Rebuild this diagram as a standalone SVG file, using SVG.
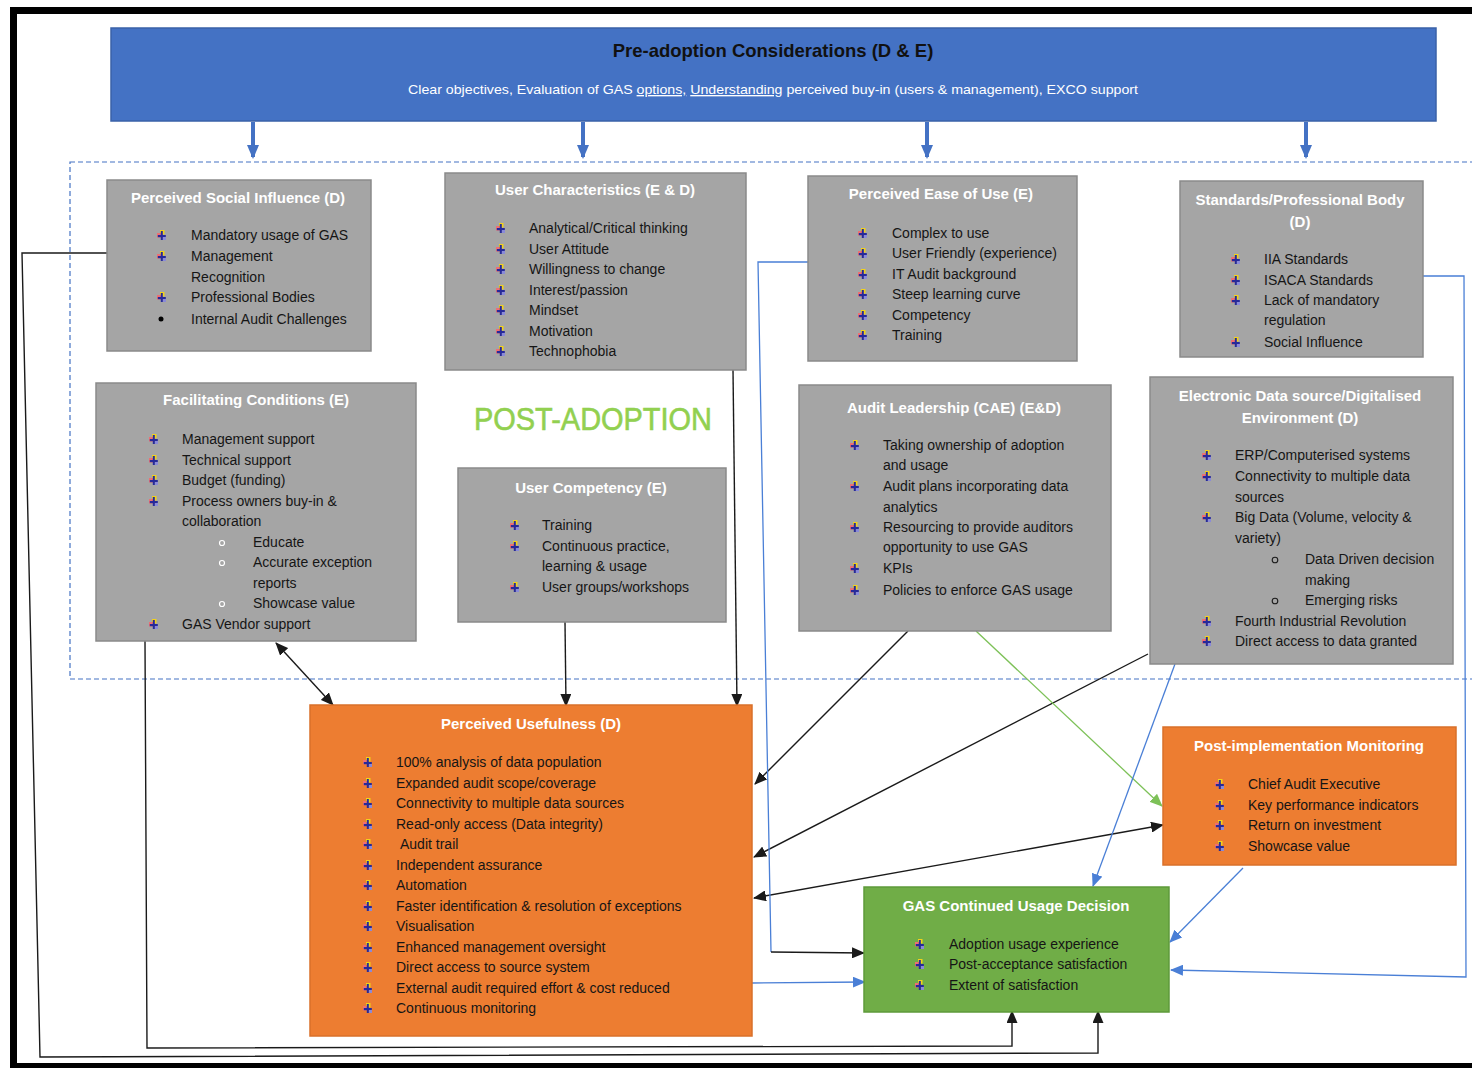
<svg xmlns="http://www.w3.org/2000/svg" xmlns:xlink="http://www.w3.org/1999/xlink" width="1472" height="1068" viewBox="0 0 1472 1068">
  <style>
    .box { fill: #A5A5A5; stroke: #8A8A8A; stroke-width: 1.5; }
    .org { fill: #ED7D31; stroke: #D9702A; stroke-width: 1.5; }
    .grn { fill: #70AD47; stroke: #5E9A3A; stroke-width: 1.5; }
    .ttl { font-family: "Liberation Sans", Arial, sans-serif; font-weight: bold; font-size: 15px; fill: #FFFFFF; text-anchor: middle; }
    .txt { font-family: "Liberation Sans", Arial, sans-serif; font-size: 14px; fill: #151515; }
    .blk { fill: none; stroke: #1A1A1A; stroke-width: 1.4; }
    .blu { fill: none; stroke: #4A7FD6; stroke-width: 1.3; }
    .gln { fill: none; stroke: #7DC158; stroke-width: 1.3; }
    .sub { fill: none; stroke: #FFFFFF; stroke-width: 1.2; }
    .subd { fill: none; stroke: #1C1C1C; stroke-width: 1.1; }
  </style>
  <defs>
    <!-- multicoloured list bullet -->
    <symbol id="bul" viewBox="0 0 9 10">
      <rect x="3" y="0" width="4.5" height="4.5" fill="#F2D21B"/>
      <rect x="0" y="3" width="4" height="4.5" fill="#EE6F72"/>
      <rect x="3.8" y="1" width="2" height="9" fill="#26299A"/>
      <rect x="0.8" y="5" width="8" height="2.2" fill="#26299A"/>
      <rect x="6" y="7" width="3" height="3" fill="#8A8AD8"/>
    </symbol>
    <marker id="aBlk" markerUnits="userSpaceOnUse" markerWidth="13" markerHeight="11" refX="12" refY="5.5" orient="auto-start-reverse">
      <path d="M0,0 L13,5.5 L0,11 z" fill="#1A1A1A"/>
    </marker>
    <marker id="aBlu" markerUnits="userSpaceOnUse" markerWidth="13" markerHeight="11" refX="12" refY="5.5" orient="auto-start-reverse">
      <path d="M0,0 L13,5.5 L0,11 z" fill="#4A7FD6"/>
    </marker>
    <marker id="aGrn" markerUnits="userSpaceOnUse" markerWidth="13" markerHeight="11" refX="12" refY="5.5" orient="auto-start-reverse">
      <path d="M0,0 L13,5.5 L0,11 z" fill="#7DC158"/>
    </marker>
    <marker id="aFat" markerUnits="userSpaceOnUse" markerWidth="14" markerHeight="12" refX="12" refY="6" orient="auto">
      <path d="M0,0 L14,6 L0,12 z" fill="#4472C4"/>
    </marker>
  </defs>

  <rect x="0" y="0" width="1472" height="1068" fill="#FFFFFF"/>
  <!-- page frame -->
  <path d="M10,7 H1472 V14 H17 V1063 H1472 V1068 H10 z" fill="#000000"/>

  <!-- pre-adoption banner -->
  <g id="banner">
    <rect x="111" y="28" width="1325" height="93" fill="#4472C4" stroke="#3A62A8" stroke-width="1.5"/>
    <text x="773" y="57" font-family="Liberation Sans, Arial, sans-serif" font-weight="bold" font-size="18.5" fill="#111111" text-anchor="middle">Pre-adoption Considerations (D &amp; E)</text>
    <text x="408" y="94" font-family="Liberation Sans, Arial, sans-serif" font-size="13.5" fill="#FFFFFF" textLength="730" lengthAdjust="spacingAndGlyphs">Clear objectives, Evaluation of GAS <tspan text-decoration="underline">options,</tspan>  <tspan text-decoration="underline">Understanding</tspan> perceived buy-in (users &amp; management), EXCO support</text>
  </g>

  <!-- dashed post-adoption region -->
  <rect x="70" y="162" width="1420" height="517" fill="none" stroke="#4472C4" stroke-width="1.2" stroke-dasharray="5 3"/>
  <text x="593" y="430" font-family="Liberation Sans, Arial, sans-serif" font-size="31" fill="#92D050" stroke="#92D050" stroke-width="0.6" text-anchor="middle" textLength="238" lengthAdjust="spacingAndGlyphs">POST-ADOPTION</text>

  <!-- connectors -->
  <g id="connectors">
    <line x1="253" y1="122" x2="253" y2="157" stroke="#4472C4" stroke-width="4" marker-end="url(#aFat)"/>
    <line x1="583" y1="122" x2="583" y2="157" stroke="#4472C4" stroke-width="4" marker-end="url(#aFat)"/>
    <line x1="927" y1="122" x2="927" y2="157" stroke="#4472C4" stroke-width="4" marker-end="url(#aFat)"/>
    <line x1="1306" y1="122" x2="1306" y2="157" stroke="#4472C4" stroke-width="4" marker-end="url(#aFat)"/>

    <polyline class="blk" points="107,253 22,253 40,1057 1098,1053 1098,1011" marker-end="url(#aBlk)"/>
    <polyline class="blk" points="145,641 147,1048 1012,1046 1012,1011" marker-end="url(#aBlk)"/>
    <line class="blk" x1="276" y1="643" x2="333" y2="705" marker-start="url(#aBlk)" marker-end="url(#aBlk)"/>
    <line class="blk" x1="565" y1="622" x2="566" y2="706" marker-end="url(#aBlk)"/>
    <line class="blk" x1="733" y1="370" x2="737" y2="706" marker-end="url(#aBlk)"/>
    <line class="blk" x1="908" y1="631" x2="755" y2="784" marker-end="url(#aBlk)"/>
    <line class="blk" x1="1148" y1="654" x2="754" y2="857" marker-end="url(#aBlk)"/>
    <line class="blk" x1="754" y1="898" x2="1163" y2="825" marker-start="url(#aBlk)" marker-end="url(#aBlk)"/>
    <line class="gln" x1="976" y1="631" x2="1162" y2="806" marker-end="url(#aGrn)"/>

    <polyline class="blu" points="808,262 758,262 771,952"/>
    <line class="blk" x1="771" y1="952" x2="864" y2="953" marker-end="url(#aBlk)"/>
    <line class="blu" x1="752" y1="983" x2="865" y2="982" marker-end="url(#aBlu)"/>
    <line class="blu" x1="1175" y1="664" x2="1093" y2="886" marker-end="url(#aBlu)"/>
    <line class="blu" x1="1243" y1="868" x2="1170" y2="942" marker-end="url(#aBlu)"/>
    <polyline class="blu" points="1423,276 1464,276 1466,977 1171,970" marker-end="url(#aBlu)"/>
  </g>

  <!-- Perceived Social Influence -->
  <g id="social-influence">
    <rect class="box" x="107" y="180" width="264" height="171"/>
    <text class="ttl" x="238" y="203">Perceived Social Influence (D)</text>
    <use href="#bul" x="157" y="230" width="9" height="10"/>
    <text class="txt" x="191" y="240">Mandatory usage of GAS</text>
    <use href="#bul" x="157" y="251" width="9" height="10"/>
    <text class="txt" x="191" y="261">Management</text>
    <text class="txt" x="191" y="282">Recognition</text>
    <use href="#bul" x="157" y="292" width="9" height="10"/>
    <text class="txt" x="191" y="302">Professional Bodies</text>
    <circle cx="161" cy="319" r="2.5" fill="#000000"/>
    <text class="txt" x="191" y="324">Internal Audit Challenges</text>
  </g>

  <!-- User Characteristics -->
  <g id="user-characteristics">
    <rect class="box" x="445" y="173" width="301" height="197"/>
    <text class="ttl" x="595" y="195">User Characteristics (E &amp; D)</text>
    <use href="#bul" x="496" y="223" width="9" height="10"/>
    <text class="txt" x="529" y="233">Analytical/Critical thinking</text>
    <use href="#bul" x="496" y="244" width="9" height="10"/>
    <text class="txt" x="529" y="254">User Attitude</text>
    <use href="#bul" x="496" y="264" width="9" height="10"/>
    <text class="txt" x="529" y="274">Willingness to change</text>
    <use href="#bul" x="496" y="285" width="9" height="10"/>
    <text class="txt" x="529" y="295">Interest/passion</text>
    <use href="#bul" x="496" y="305" width="9" height="10"/>
    <text class="txt" x="529" y="315">Mindset</text>
    <use href="#bul" x="496" y="326" width="9" height="10"/>
    <text class="txt" x="529" y="336">Motivation</text>
    <use href="#bul" x="496" y="346" width="9" height="10"/>
    <text class="txt" x="529" y="356">Technophobia</text>
  </g>

  <!-- Perceived Ease of Use -->
  <g id="ease-of-use">
    <rect class="box" x="808" y="176" width="269" height="185"/>
    <text class="ttl" x="941" y="199">Perceived Ease of Use (E)</text>
    <use href="#bul" x="858" y="228" width="9" height="10"/>
    <text class="txt" x="892" y="238">Complex to use</text>
    <use href="#bul" x="858" y="248" width="9" height="10"/>
    <text class="txt" x="892" y="258">User Friendly (experience)</text>
    <use href="#bul" x="858" y="269" width="9" height="10"/>
    <text class="txt" x="892" y="279">IT Audit background</text>
    <use href="#bul" x="858" y="289" width="9" height="10"/>
    <text class="txt" x="892" y="299">Steep learning curve</text>
    <use href="#bul" x="858" y="310" width="9" height="10"/>
    <text class="txt" x="892" y="320">Competency</text>
    <use href="#bul" x="858" y="330" width="9" height="10"/>
    <text class="txt" x="892" y="340">Training</text>
  </g>

  <!-- Standards / Professional Body -->
  <g id="standards">
    <rect class="box" x="1180" y="181" width="243" height="176"/>
    <text class="ttl" x="1300" y="205">Standards/Professional Body</text>
    <text class="ttl" x="1300" y="227">(D)</text>
    <use href="#bul" x="1231" y="254" width="9" height="10"/>
    <text class="txt" x="1264" y="264">IIA Standards</text>
    <use href="#bul" x="1231" y="275" width="9" height="10"/>
    <text class="txt" x="1264" y="285">ISACA Standards</text>
    <use href="#bul" x="1231" y="295" width="9" height="10"/>
    <text class="txt" x="1264" y="305">Lack of mandatory</text>
    <text class="txt" x="1264" y="325">regulation</text>
    <use href="#bul" x="1231" y="337" width="9" height="10"/>
    <text class="txt" x="1264" y="347">Social Influence</text>
  </g>

  <!-- Facilitating Conditions -->
  <g id="facilitating-conditions">
    <rect class="box" x="96" y="383" width="320" height="258"/>
    <text class="ttl" x="256" y="405">Facilitating Conditions (E)</text>
    <use href="#bul" x="149" y="434" width="9" height="10"/>
    <text class="txt" x="182" y="444">Management support</text>
    <use href="#bul" x="149" y="455" width="9" height="10"/>
    <text class="txt" x="182" y="465">Technical support</text>
    <use href="#bul" x="149" y="475" width="9" height="10"/>
    <text class="txt" x="182" y="485">Budget (funding)</text>
    <use href="#bul" x="149" y="496" width="9" height="10"/>
    <text class="txt" x="182" y="506">Process owners buy-in &amp;</text>
    <text class="txt" x="182" y="526">collaboration</text>
    <circle class="sub" cx="222" cy="543" r="2.5"/>
    <text class="txt" x="253" y="547">Educate</text>
    <circle class="sub" cx="222" cy="563" r="2.5"/>
    <text class="txt" x="253" y="567">Accurate exception</text>
    <text class="txt" x="253" y="588">reports</text>
    <circle class="sub" cx="222" cy="604" r="2.5"/>
    <text class="txt" x="253" y="608">Showcase value</text>
    <use href="#bul" x="149" y="619" width="9" height="10"/>
    <text class="txt" x="182" y="629">GAS Vendor support</text>
  </g>

  <!-- User Competency -->
  <g id="user-competency">
    <rect class="box" x="458" y="468" width="268" height="154"/>
    <text class="ttl" x="591" y="493">User Competency (E)</text>
    <use href="#bul" x="510" y="520" width="9" height="10"/>
    <text class="txt" x="542" y="530">Training</text>
    <use href="#bul" x="510" y="541" width="9" height="10"/>
    <text class="txt" x="542" y="551">Continuous practice,</text>
    <text class="txt" x="542" y="571">learning &amp; usage</text>
    <use href="#bul" x="510" y="582" width="9" height="10"/>
    <text class="txt" x="542" y="592">User groups/workshops</text>
  </g>

  <!-- Audit Leadership -->
  <g id="audit-leadership">
    <rect class="box" x="799" y="385" width="312" height="246"/>
    <text class="ttl" x="954" y="413">Audit Leadership (CAE) (E&amp;D)</text>
    <use href="#bul" x="850" y="440" width="9" height="10"/>
    <text class="txt" x="883" y="450">Taking ownership of adoption</text>
    <text class="txt" x="883" y="470">and usage</text>
    <use href="#bul" x="850" y="481" width="9" height="10"/>
    <text class="txt" x="883" y="491">Audit plans incorporating data</text>
    <text class="txt" x="883" y="512">analytics</text>
    <use href="#bul" x="850" y="522" width="9" height="10"/>
    <text class="txt" x="883" y="532">Resourcing to provide auditors</text>
    <text class="txt" x="883" y="552">opportunity to use GAS</text>
    <use href="#bul" x="850" y="563" width="9" height="10"/>
    <text class="txt" x="883" y="573">KPIs</text>
    <use href="#bul" x="850" y="585" width="9" height="10"/>
    <text class="txt" x="883" y="595">Policies to enforce GAS usage</text>
  </g>

  <!-- Electronic Data source / Digitalised Environment -->
  <g id="electronic-data">
    <rect class="box" x="1150" y="377" width="303" height="287"/>
    <text class="ttl" x="1300" y="401">Electronic Data source/Digitalised</text>
    <text class="ttl" x="1300" y="423">Environment (D)</text>
    <use href="#bul" x="1202" y="450" width="9" height="10"/>
    <text class="txt" x="1235" y="460">ERP/Computerised systems</text>
    <use href="#bul" x="1202" y="471" width="9" height="10"/>
    <text class="txt" x="1235" y="481">Connectivity to multiple data</text>
    <text class="txt" x="1235" y="502">sources</text>
    <use href="#bul" x="1202" y="512" width="9" height="10"/>
    <text class="txt" x="1235" y="522">Big Data (Volume, velocity &amp;</text>
    <text class="txt" x="1235" y="543">variety)</text>
    <circle class="subd" cx="1275" cy="560" r="2.8"/>
    <text class="txt" x="1305" y="564">Data Driven decision</text>
    <text class="txt" x="1305" y="585">making</text>
    <circle class="subd" cx="1275" cy="601" r="2.8"/>
    <text class="txt" x="1305" y="605">Emerging risks</text>
    <use href="#bul" x="1202" y="616" width="9" height="10"/>
    <text class="txt" x="1235" y="626">Fourth Industrial Revolution</text>
    <use href="#bul" x="1202" y="636" width="9" height="10"/>
    <text class="txt" x="1235" y="646">Direct access to data granted</text>
  </g>

  <!-- Perceived Usefulness -->
  <g id="perceived-usefulness">
    <rect class="org" x="310" y="705" width="442" height="331"/>
    <text class="ttl" x="531" y="729">Perceived Usefulness (D)</text>
    <use href="#bul" x="363" y="757" width="9" height="10"/>
    <text class="txt" x="396" y="767">100% analysis of data population</text>
    <use href="#bul" x="363" y="778" width="9" height="10"/>
    <text class="txt" x="396" y="788">Expanded audit scope/coverage</text>
    <use href="#bul" x="363" y="798" width="9" height="10"/>
    <text class="txt" x="396" y="808">Connectivity to multiple data sources</text>
    <use href="#bul" x="363" y="819" width="9" height="10"/>
    <text class="txt" x="396" y="829">Read-only access (Data integrity)</text>
    <use href="#bul" x="363" y="839" width="9" height="10"/>
    <text class="txt" x="400" y="849">Audit trail</text>
    <use href="#bul" x="363" y="860" width="9" height="10"/>
    <text class="txt" x="396" y="870">Independent assurance</text>
    <use href="#bul" x="363" y="880" width="9" height="10"/>
    <text class="txt" x="396" y="890">Automation</text>
    <use href="#bul" x="363" y="901" width="9" height="10"/>
    <text class="txt" x="396" y="911">Faster identification &amp; resolution of exceptions</text>
    <use href="#bul" x="363" y="921" width="9" height="10"/>
    <text class="txt" x="396" y="931">Visualisation</text>
    <use href="#bul" x="363" y="942" width="9" height="10"/>
    <text class="txt" x="396" y="952">Enhanced management oversight</text>
    <use href="#bul" x="363" y="962" width="9" height="10"/>
    <text class="txt" x="396" y="972">Direct access to source system</text>
    <use href="#bul" x="363" y="983" width="9" height="10"/>
    <text class="txt" x="396" y="993">External audit required effort &amp; cost reduced</text>
    <use href="#bul" x="363" y="1003" width="9" height="10"/>
    <text class="txt" x="396" y="1013">Continuous monitoring</text>
  </g>

  <!-- Post-implementation Monitoring -->
  <g id="post-implementation">
    <rect class="org" x="1163" y="727" width="293" height="138"/>
    <text class="ttl" x="1309" y="751">Post-implementation Monitoring</text>
    <use href="#bul" x="1215" y="779" width="9" height="10"/>
    <text class="txt" x="1248" y="789">Chief Audit Executive</text>
    <use href="#bul" x="1215" y="800" width="9" height="10"/>
    <text class="txt" x="1248" y="810">Key performance indicators</text>
    <use href="#bul" x="1215" y="820" width="9" height="10"/>
    <text class="txt" x="1248" y="830">Return on investment</text>
    <use href="#bul" x="1215" y="841" width="9" height="10"/>
    <text class="txt" x="1248" y="851">Showcase value</text>
  </g>

  <!-- GAS Continued Usage Decision -->
  <g id="continued-usage">
    <rect class="grn" x="864" y="887" width="305" height="125"/>
    <text class="ttl" x="1016" y="911">GAS Continued Usage Decision</text>
    <use href="#bul" x="915" y="939" width="9" height="10"/>
    <text class="txt" x="949" y="949">Adoption usage experience</text>
    <use href="#bul" x="915" y="959" width="9" height="10"/>
    <text class="txt" x="949" y="969">Post-acceptance satisfaction</text>
    <use href="#bul" x="915" y="980" width="9" height="10"/>
    <text class="txt" x="949" y="990">Extent of satisfaction</text>
  </g>
</svg>
